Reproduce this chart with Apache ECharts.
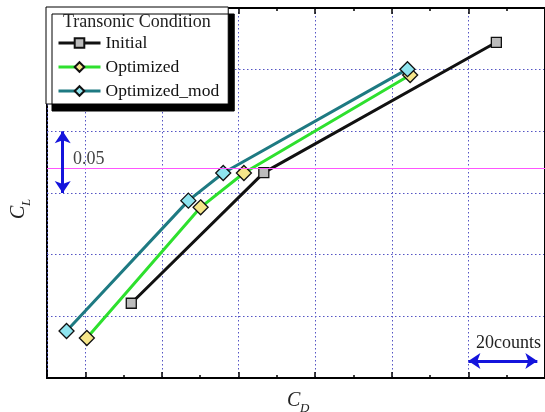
<!DOCTYPE html>
<html>
<head>
<meta charset="utf-8">
<script src="https://cdn.jsdelivr.net/npm/echarts@6/dist/echarts.min.js"></script>
<style>html,body{margin:0;padding:0;background:#fff;}#c{width:545px;height:412px;}</style>
</head>
<body>
<div id="c"></div>
<script>
// ---- data (CD, CL) ----
const seriesNames = ['Initial', 'Optimized', 'Optimized_mod'];
const cdInitial = [0.01620, 0.01966, 0.02573];
const clInitial = [0.3606, 0.4665, 0.5722];
const cdOpt = [0.01504, 0.01801, 0.01914, 0.02348];
const clOpt = [0.3324, 0.4384, 0.4662, 0.5457];
const cdMod = [0.01451, 0.01769, 0.01860, 0.02341];
const clMod = [0.3381, 0.4438, 0.4662, 0.5504];
const designCL = 0.4665;
// scale bars
const clBarX = 0.01441, clBarY = [0.45, 0.50];   // 0.05 in CL
const cdBarX = [0.0250, 0.0268], cdBarY = 0.3138; // 20 counts in CD
const legendTitle = 'Transonic Condition';

const zip = (a, b) => a.map((v, i) => [v, b[i]]);
const SERIF = '"Liberation Serif", "DejaVu Serif", serif';
const gridColor = '#5454c4';

const chart = echarts.init(document.getElementById('c'), null, {renderer: 'canvas'});

const dataAxisCommon = {
  type: 'value', min: 0.014, max: 0.027, interval: 0.001, gridIndex: 0,
  axisLabel: {show: false}, splitLine: {show: false},
  axisLine: {show: true, lineStyle: {color: '#000', width: 2}},
  axisTick: {show: true, inside: true, length: 3, lineStyle: {color: '#000', width: 1.5}}
};
const gridAxisCommon = {
  type: 'value', inverse: true, min: 0, max: 13, interval: 2, gridIndex: 0,
  axisLabel: {show: false}, axisLine: {show: false},
  axisTick: {show: true, inside: true, length: 6, lineStyle: {color: '#000', width: 1.5}}
};

const option = {
  animation: false,
  backgroundColor: '#fff',
  grid: {left: 47, top: 8, width: 503.75, height: 370, show: true, borderColor: '#000', borderWidth: 2, containLabel: false},
  xAxis: [
    Object.assign({}, dataAxisCommon, {position: 'bottom'}),
    Object.assign({}, dataAxisCommon, {position: 'top'}),
    Object.assign({}, gridAxisCommon, {position: 'bottom',
      splitLine: {show: true, lineStyle: {color: gridColor, width: 1, type: [1.5, 2.5]}}}),
    Object.assign({}, gridAxisCommon, {position: 'top', splitLine: {show: false}})
  ],
  yAxis: [{
    type: 'value', min: 0.30, max: 0.60, interval: 0.05, position: 'left',
    axisLabel: {show: false},
    axisLine: {show: true, lineStyle: {color: '#000', width: 2}},
    axisTick: {show: true, inside: true, length: 6, lineStyle: {color: '#000', width: 1.5}},
    minorTick: {show: true, splitNumber: 2, length: 3, lineStyle: {color: '#000', width: 1.5}},
    splitLine: {show: true, lineStyle: {color: gridColor, width: 1, type: [1.5, 2.5]}}
  }],
  legend: {
    show: true, orient: 'vertical', left: 46, top: 7,
    padding: [26, 9, 3, 11], itemGap: 4, itemWidth: 42, itemHeight: 12,
    backgroundColor: '#fff', borderColor: '#000', borderWidth: 1,
    shadowColor: '#000', shadowBlur: 0, shadowOffsetX: 6, shadowOffsetY: 7,
    lineStyle: {width: 3},
    textStyle: {fontFamily: SERIF, fontSize: 17.5, color: '#111', lineHeight: 20},
    data: seriesNames
  },
  graphic: [
    {type: 'text', left: 63, top: 13, z: 100, style: {text: legendTitle, font: '18px ' + SERIF, fill: '#222'}},
    {type: 'text', left: 73, top: 150, z: 100, style: {text: '0.05', font: '18px ' + SERIF, fill: '#444'}},
    {type: 'text', left: 476, top: 334, z: 100, style: {text: '20counts', font: '18px ' + SERIF, fill: '#222'}},
    {type: 'group', x: 287, y: 391, z: 100, children: [
      {type: 'text', x: 0, y: 0, style: {text: 'C', font: 'italic 20px ' + SERIF, fill: '#222', verticalAlign: 'top'}},
      {type: 'text', x: 13, y: 11, style: {text: 'D', font: 'italic 13px ' + SERIF, fill: '#222', verticalAlign: 'top'}}
    ]},
    {type: 'group', x: 9, y: 219, rotation: Math.PI / 2, z: 100, children: [
      {type: 'text', x: 0, y: 0, style: {text: 'C', font: 'italic 20px ' + SERIF, fill: '#222', verticalAlign: 'top'}},
      {type: 'text', x: 13, y: 11, style: {text: 'L', font: 'italic 13px ' + SERIF, fill: '#222', verticalAlign: 'top'}}
    ]}
  ],
  series: [
    {
      name: 'design', type: 'line', data: [], xAxisIndex: 0, yAxisIndex: 0, z: 1,
      markLine: {silent: true, symbol: ['none', 'none'], label: {show: false},
        lineStyle: {color: '#ff55ff', width: 1, type: 'solid'},
        data: [{yAxis: designCL}]}
    },
    {
      name: 'bars', type: 'line', data: [], xAxisIndex: 0, yAxisIndex: 0, z: 5,
      markLine: {silent: true, symbol: ['arrow', 'arrow'], symbolSize: 12, label: {show: false},
        lineStyle: {color: '#1414dc', width: 3, type: 'solid'},
        data: [
          [{coord: [clBarX, clBarY[0]]}, {coord: [clBarX, clBarY[1]]}],
          [{coord: [cdBarX[0], cdBarY]}, {coord: [cdBarX[1], cdBarY]}]
        ]}
    },
    {
      name: 'Initial', type: 'line', data: zip(cdInitial, clInitial), z: 3,
      symbol: 'rect', symbolSize: 10,
      lineStyle: {color: '#111', width: 3},
      itemStyle: {color: '#bcbcbc', borderColor: '#111', borderWidth: 1.3}
    },
    {
      name: 'Optimized', type: 'line', data: zip(cdOpt, clOpt), z: 3,
      symbol: 'diamond', symbolSize: 15,
      lineStyle: {color: '#2ee02e', width: 3},
      itemStyle: {color: '#f6e68a', borderColor: '#111', borderWidth: 1.3}
    },
    {
      name: 'Optimized_mod', type: 'line', data: zip(cdMod, clMod), z: 4,
      symbol: 'diamond', symbolSize: 15,
      lineStyle: {color: '#1e7a82', width: 3},
      itemStyle: {color: '#8ee4ef', borderColor: '#111', borderWidth: 1.3}
    }
  ]
};
chart.setOption(option);
</script>
</body>
</html>
